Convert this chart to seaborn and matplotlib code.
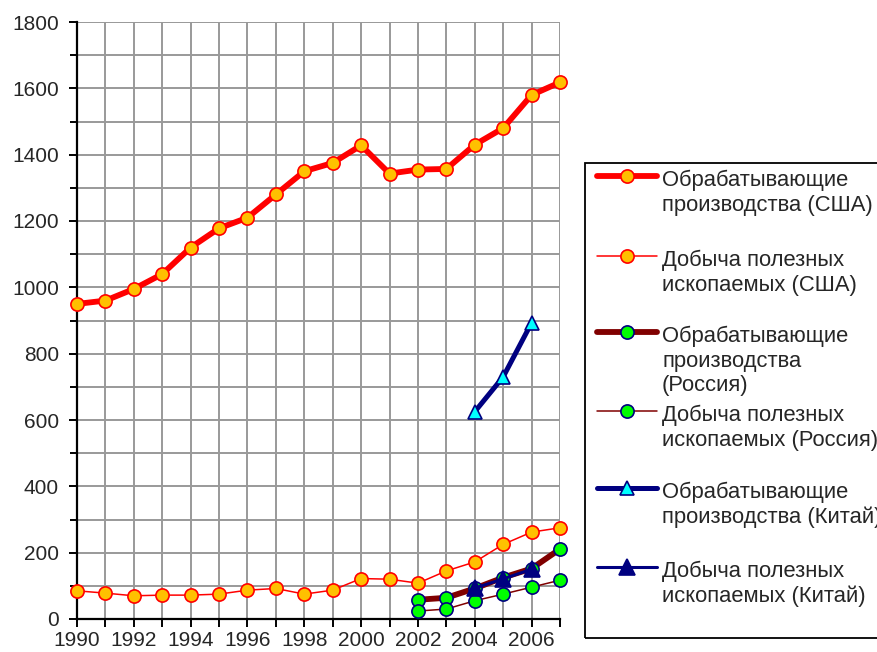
import numpy as np
import pandas as pd
import matplotlib
matplotlib.use("Agg")
import matplotlib.pyplot as plt
import seaborn as sns
from matplotlib.ticker import MultipleLocator
from matplotlib.lines import Line2D
from matplotlib.patches import Rectangle

years_us = list(range(1990, 2008))
us_manuf = [950, 960, 995, 1040, 1120, 1178, 1210, 1280, 1350, 1375,
            1428, 1343, 1355, 1357, 1430, 1480, 1580, 1618]
us_mining = [85, 78, 70, 72, 72, 75, 87, 92, 75, 87,
             122, 120, 108, 145, 172, 225, 262, 275]

years_ru = list(range(2002, 2008))
ru_manuf = [58, 64, 92, 125, 152, 211]
ru_mining = [24, 30, 55, 75, 96, 117]

years_cn = [2004, 2005, 2006]
cn_manuf = [625, 730, 893]
cn_mining = [93, 121, 150]

labels = [
    "Обрабатывающие\nпроизводства (США)",
    "Добыча полезных\nископаемых (США)",
    "Обрабатывающие\nпроизводства\n(Россия)",
    "Добыча полезных\nископаемых (Россия)",
    "Обрабатывающие\nпроизводства (Китай)",
    "Добыча полезных\nископаемых (Китай)",
]

sns.set_style("white")
plt.rcParams['font.family'] = ['Liberation Sans', 'DejaVu Sans']

W, H = 877, 652
fig = plt.figure(figsize=(W / 100, H / 100), dpi=100)
ax = fig.add_axes([77 / W, 1 - 619 / H, (560 - 77) / W, (619 - 22) / H])

styles = [
    dict(color="#ff0000", lw=4.2, marker="o", mfc="#ffc000", mec="#ff0000", ms=9.5, mew=1.2),
    dict(color="#ff0000", lw=1.1, marker="o", mfc="#ffc000", mec="#ff0000", ms=9.5, mew=1.2),
    dict(color="#800000", lw=4.2, marker="o", mfc="#00ff00", mec="#000080", ms=9.5, mew=1.2),
    dict(color="#800000", lw=1.1, marker="o", mfc="#00ff00", mec="#000080", ms=9.5, mew=1.2),
    dict(color="#000080", lw=3.6, marker="^", mfc="#00ffff", mec="#000080", ms=10, mew=1.2),
    dict(color="#000080", lw=2.2, marker="^", mfc="#000080", mec="#000080", ms=11, mew=1.2),
]
data = [(years_us, us_manuf), (years_us, us_mining), (years_ru, ru_manuf),
        (years_ru, ru_mining), (years_cn, cn_manuf), (years_cn, cn_mining)]

for (x, y), st in zip(data, styles):
    df = pd.DataFrame({"year": x, "value": y})
    sns.lineplot(data=df, x="year", y="value", ax=ax,
                 color=st["color"], linewidth=st["lw"], marker=st["marker"],
                 markerfacecolor=st["mfc"], markeredgecolor=st["mec"],
                 markersize=st["ms"], markeredgewidth=st["mew"], clip_on=False, zorder=3)

ax.set_xlim(1990, 2007)
ax.set_ylim(0, 1800)
ax.set_xlabel("")
ax.set_ylabel("")

ax.set_xticks(list(range(1990, 2008)))
ax.set_xticklabels([str(y) if (y % 2 == 0 and y < 2007) else "" for y in range(1990, 2008)])
ax.yaxis.set_major_locator(MultipleLocator(200))
ax.yaxis.set_minor_locator(MultipleLocator(100))
ax.grid(True, which="both", color="#999999", lw=1.4, zorder=0)
ax.set_axisbelow(True)

for s in ["top", "right"]:
    ax.spines[s].set_visible(False)
for s in ["left", "bottom"]:
    ax.spines[s].set_color("black")
    ax.spines[s].set_linewidth(1.6)

ax.tick_params(axis="both", which="major", direction="out", length=6, width=1.4,
               color="black", labelsize=15, bottom=True, left=True)
ax.tick_params(axis="x", which="major", pad=3)
ax.tick_params(axis="y", which="major", pad=7)
ax.tick_params(axis="y", which="minor", direction="out", length=5, width=1.4,
               color="black", left=True)

# legend box (Excel style, cut at the right edge)
fig.patches.append(Rectangle((585 / W, 1 - 638 / H), 320 / W, (638 - 163) / H,
                             transform=fig.transFigure, fill=False,
                             edgecolor="black", lw=1.3))
handle_y = [176, 256, 332, 411, 488, 567]
for st, lab, hy in zip(styles, labels, handle_y):
    yf = 1 - hy / H
    fig.lines.append(Line2D([597 / W, 657 / W], [yf, yf], transform=fig.transFigure,
                            color=st["color"], lw=st["lw"]))
    fig.lines.append(Line2D([627 / W], [yf], transform=fig.transFigure, lw=0,
                            marker=st["marker"], mfc=st["mfc"], mec=st["mec"],
                            ms=st["ms"], mew=st["mew"]))
    fig.text(662 / W, 1 - (hy - 6) / H, lab, fontsize=15.8, va="top", ha="left",
             linespacing=1.22)

fig.savefig("out.png", dpi=100)
